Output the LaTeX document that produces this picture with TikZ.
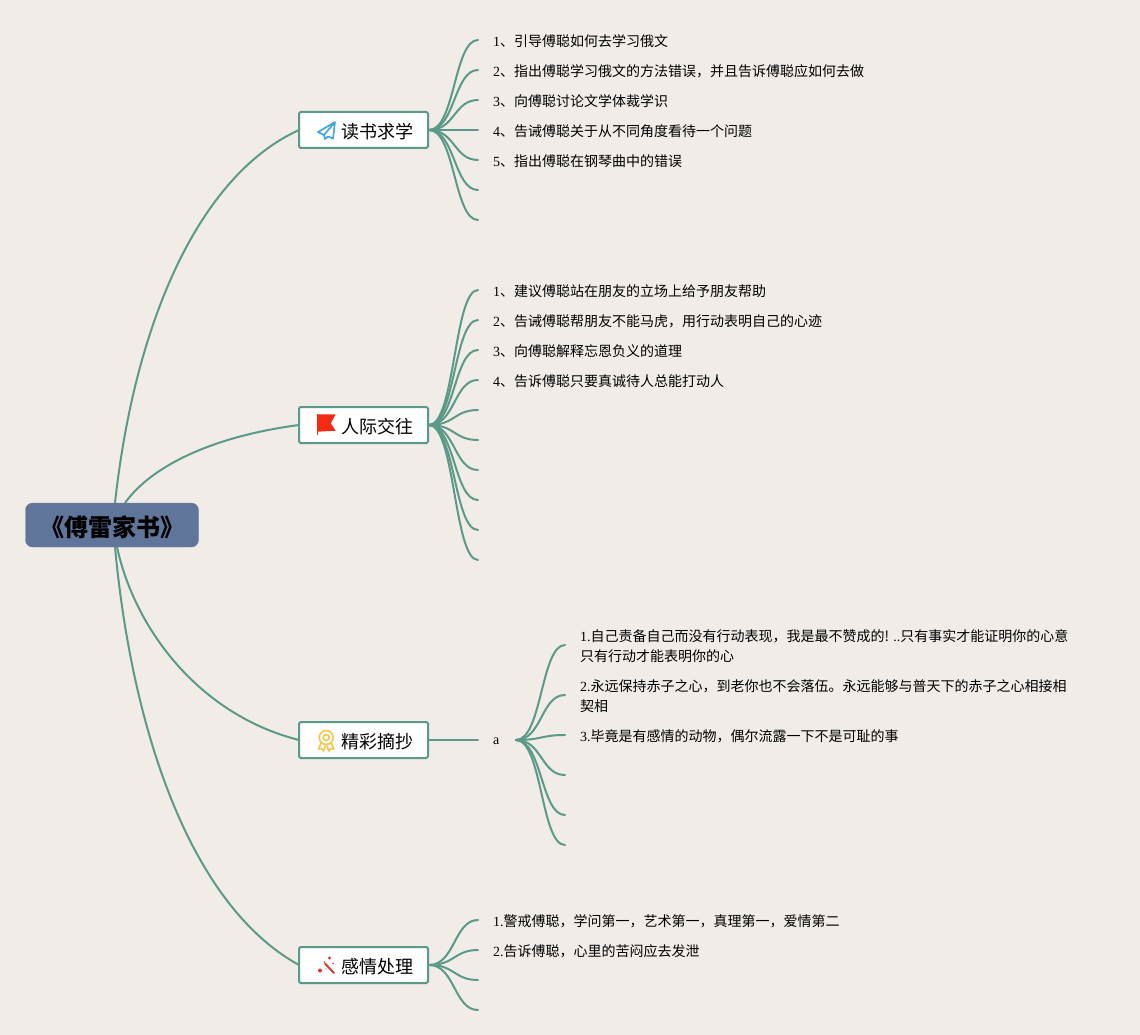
\documentclass[tikz,border=0pt]{standalone}
\usepackage{fontspec}
\setmainfont{Noto Sans CJK SC}
\newfontfamily\serf{Liberation Serif}
\newcommand{\lat}[1]{{\serf #1}}
\definecolor{paper}{HTML}{F1ECE7}
\definecolor{teal}{HTML}{5B9A88}
\definecolor{rootblue}{HTML}{5F7599}
\definecolor{planeblue}{HTML}{3BA5E0}
\definecolor{flagred}{HTML}{F32B12}
\definecolor{medalgold}{HTML}{F6C645}
\definecolor{wandred}{HTML}{D63A38}
\begin{document}
\begin{tikzpicture}[x=1pt,y=-1pt,
  branch/.style={draw=teal,line width=2pt,line cap=round},
  rootbox/.style={draw=rootblue!90!white,fill=rootblue,rounded corners=7pt,minimum width=173pt,minimum height=44pt,inner sep=0pt,font=\fontsize{24}{28}\selectfont\bfseries},
  topicbox/.style={draw=teal,fill=white,line width=2pt,rounded corners=1.5pt,minimum width=129pt,minimum height=36pt,inner sep=0pt},
  topiclabel/.style={anchor=west,inner sep=0pt,font=\fontsize{18}{22}\selectfont},
  leaf/.style={anchor=west,inner sep=0pt,align=left,font=\fontsize{14}{20}\selectfont},
]
\useasboundingbox (0,0) rectangle (1140,1035);
\fill[paper] (0,0) rectangle (1140,1035);

% main branches (drawn below boxes)
\coordinate (r1) at (115,503);
\coordinate (r2) at (125,503);
\coordinate (r3) at (117,547);
\coordinate (r4) at (115,547);
\coordinate (l1) at (299,130);
\coordinate (l2) at (299,425);
\coordinate (l3) at (299,740);
\coordinate (l4) at (299,965);
\draw[branch] (r1) .. controls (135,320) and (200,175) .. (l1);
\draw[branch] (r2) .. controls (152,465) and (215,436) .. (l2);
\draw[branch] (r3) .. controls (135,630) and (200,715) .. (l3);
\draw[branch] (r4) .. controls (132,730) and (190,905) .. (l4);

\node[rootbox] (root) at (112,525) {};
\node[inner sep=0pt,font=\fontsize{24}{28}\selectfont\bfseries] (rootlabel) at (112,527) {《傅雷家书》};

\node[topicbox] (t1) at (363.5,130) {};
\node[topicbox] (t2) at (363.5,425) {};
\node[topicbox] (t3) at (363.5,740) {};
\node[topicbox] (t4) at (363.5,965) {};
\node[topiclabel] (tl1) at (341,132) {读书求学};
\node[topiclabel] (tl2) at (341,427) {人际交往};
\node[topiclabel] (tl3) at (341,742) {精彩摘抄};
\node[topiclabel] (tl4) at (341,967) {感情处理};

% icons
\draw[color=planeblue,line width=1.6pt,line join=round]
  (335,122) -- (318,132) -- (324,135) -- (335,122) -- (333,138.5) -- (328,136.5) -- (325,139) -- (324,135);
\fill[flagred] (317.3,414.3) -- (335.7,414.3) -- (330.7,423.3) -- (335.7,430.7) -- (317.3,431.7) -- cycle;
\draw[flagred,line width=.8pt] (317.3,414.3) -- (317.3,435);
\begin{scope}[color=medalgold,line width=1.6pt]
  \draw (326.2,737.5) circle (7);
  \draw (326.2,737.5) circle (3);
  \draw[line join=round] (321,743) -- (318.5,749) -- (321.5,748.5) -- (323.5,751) -- (325.5,745.5);
  \draw[line join=round] (331.4,743) -- (333.9,749) -- (330.9,748.5) -- (328.9,751) -- (326.9,745.5);
\end{scope}
\draw[wandred,line width=2pt,line cap=round] (325,963.5) -- (334,973);
\fill[wandred] (320,970.5) circle (2) (329.5,958) circle (1.6) (324.5,962) circle (.9) (333,963.5) circle (.9) (326,969) circle (.7);

% first group
\foreach \y [count=\i] in {40,70,100,130,160,190,220} {
  \coordinate (a\i) at (478,\y);
  \draw[branch] (t1.east) .. controls +(26,0) and +(-24,0) .. (a\i);
}
\node[leaf] (a1t) at (493,41) {\lat{1}、引导傅聪如何去学习俄文};
\node[leaf] (a2t) at (493,71) {\lat{2}、指出傅聪学习俄文的方法错误，并且告诉傅聪应如何去做};
\node[leaf] (a3t) at (493,101) {\lat{3}、向傅聪讨论文学体裁学识};
\node[leaf] (a4t) at (493,131) {\lat{4}、告诫傅聪关于从不同角度看待一个问题};
\node[leaf] (a5t) at (493,161) {\lat{5}、指出傅聪在钢琴曲中的错误};

% second group
\foreach \y [count=\i] in {290,320,350,380,410,440,470,500,530,560} {
  \coordinate (b\i) at (478,\y);
  \draw[branch] (t2.east) .. controls +(26,0) and +(-24,0) .. (b\i);
}
\node[leaf] (b1t) at (493,291) {\lat{1}、建议傅聪站在朋友的立场上给予朋友帮助};
\node[leaf] (b2t) at (493,321) {\lat{2}、告诫傅聪帮朋友不能马虎，用行动表明自己的心迹};
\node[leaf] (b3t) at (493,351) {\lat{3}、向傅聪解释忘恩负义的道理};
\node[leaf] (b4t) at (493,381) {\lat{4}、告诉傅聪只要真诚待人总能打动人};

% third group
\node[leaf,font=\fontsize{14}{20}\selectfont\serf] (amid) at (493,741) {a};
\coordinate (amidin) at (478,740);
\coordinate (amidout) at (516,740);
\draw[branch] (t3.east) -- (amidin);
\foreach \y [count=\i] in {645,695,735,775,815,845} {
  \coordinate (c\i) at (565,\y);
  \draw[branch] (amidout) .. controls +(26,0) and +(-24,0) .. (c\i);
}
\node[leaf] (c1t) at (580,646) {\lat{1.}自己责备自己而没有行动表现，我是最不赞成的! \lat{..}只有事实才能证明你的心意\\只有行动才能表明你的心};
\node[leaf] (c2t) at (580,696) {\lat{2.}永远保持赤子之心，到老你也不会落伍。永远能够与普天下的赤子之心相接相\\契相};
\node[leaf] (c3t) at (580,736) {\lat{3.}毕竟是有感情的动物，偶尔流露一下不是可耻的事};

% fourth group
\foreach \y [count=\i] in {920,950,980,1010} {
  \coordinate (d\i) at (478,\y);
  \draw[branch] (t4.east) .. controls +(26,0) and +(-24,0) .. (d\i);
}
\node[leaf] (d1t) at (493,921) {\lat{1.}警戒傅聪，学问第一，艺术第一，真理第一，爱情第二};
\node[leaf] (d2t) at (493,951) {\lat{2.}告诉傅聪，心里的苦闷应去发泄};
\end{tikzpicture}
\end{document}
